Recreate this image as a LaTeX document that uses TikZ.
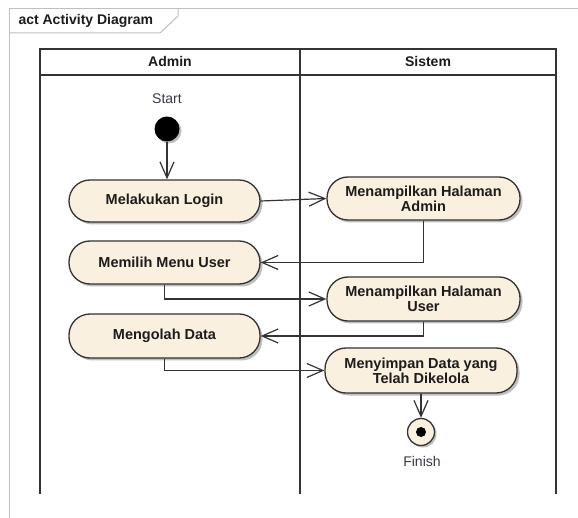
\documentclass[tikz,border=0pt]{standalone}
\usepackage{fontspec}
\setmainfont{Liberation Sans}
\usetikzlibrary{arrows.meta,shadows}
\definecolor{nodefill}{RGB}{250,240,224}
\definecolor{linecol}{RGB}{51,51,51}
\definecolor{framecol}{RGB}{190,190,190}
\definecolor{txtcol}{RGB}{28,28,28}
\definecolor{lbltxt}{RGB}{55,58,70}
\tikzset{
  actbox/.style={draw=linecol, line width=1.3pt, fill=nodefill, rounded corners=21pt,
    minimum width=192pt, minimum height=43pt, align=center, text=txtcol,
    font=\fontsize{14.5}{15}\selectfont\bfseries, inner sep=2pt,
    drop shadow={shadow xshift=2.5pt, shadow yshift=-2.5pt, fill=black, opacity=0.25}},
  flow/.style={draw=linecol, line width=1.2pt, -{Straight Barb[length=16pt,width=14pt,line width=1.2pt]}},
  lane/.style={draw=linecol, line width=1.6pt},
  hdr/.style={font=\fontsize{14}{15}\selectfont\bfseries, text=txtcol},
  lbl/.style={font=\fontsize{14}{15}\selectfont, text=lbltxt}
}
\begin{document}
\begin{tikzpicture}[x=1pt,y=-1pt]
\useasboundingbox[fill=white] (0,0) rectangle (578,518);
% outer frame
\draw[framecol, line width=1pt] (9,518) -- (9,9) -- (578,9);
\draw[framecol, line width=1pt] (9,33) -- (160,33) -- (178,16) -- (178,9);
\node[hdr, anchor=west] (title) at (15,21) {act Activity Diagram};
% swimlanes (open at the bottom)
\draw[lane] (40,494) -- (40,49) -- (556,49) -- (556,494);
\draw[lane] (40,75) -- (556,75);
\draw[lane] (300,49) -- (300,494);
\node[hdr] (hadmin) at (170,62) {Admin};
\node[hdr] (hsistem) at (428,62) {Sistem};
% start
\node[lbl] (startlbl) at (167,99) {Start};
\node[circle, fill=black, minimum size=25pt, inner sep=0pt,
  drop shadow={shadow xshift=2pt, shadow yshift=-2pt, fill=black, opacity=0.25}] (start) at (167,129) {};
% activities
\node[actbox, minimum width=191pt, minimum height=42pt] (login) at (164.5,201) {Melakukan Login};
\node[actbox, minimum width=191pt] (memilih) at (164.5,262.5) {Memilih Menu User};
\node[actbox, minimum width=191pt, minimum height=44pt] (mengolah) at (164.5,336) {Mengolah Data};
\node[actbox, minimum width=193pt] (hadminpage) at (423.5,198.5) {Menampilkan Halaman\\Admin};
\node[actbox, minimum width=193pt, minimum height=44pt] (huserpage) at (423.5,299) {Menampilkan Halaman\\User};
\node[actbox, minimum width=192pt, minimum height=45pt] (simpan) at (421,370.5) {Menyimpan Data yang\\Telah Dikelola};
% final
\node[circle, draw=linecol, line width=1.3pt, fill=nodefill, minimum size=27pt, inner sep=0pt,
  drop shadow={shadow xshift=2pt, shadow yshift=-2pt, fill=black, opacity=0.25}] (final) at (421,432) {};
\node[circle, fill=black, minimum size=10pt, inner sep=0pt] (finaldot) at (final.center) {};
\node[lbl] (finishlbl) at (422,461) {Finish};
% flows
\draw[flow] (start) -- (start |- login.north);
\draw[flow] (login.east) -- (hadminpage.west);
\draw[flow] (hadminpage.south) |- (memilih.east);
\draw[flow] (memilih.south) |- (huserpage.west);
\draw[flow] (huserpage.south) |- (mengolah.east);
\draw[flow] (mengolah.south) |- (simpan.west);
\draw[flow] (simpan.south) -- (final.north);
\end{tikzpicture}
\end{document}
